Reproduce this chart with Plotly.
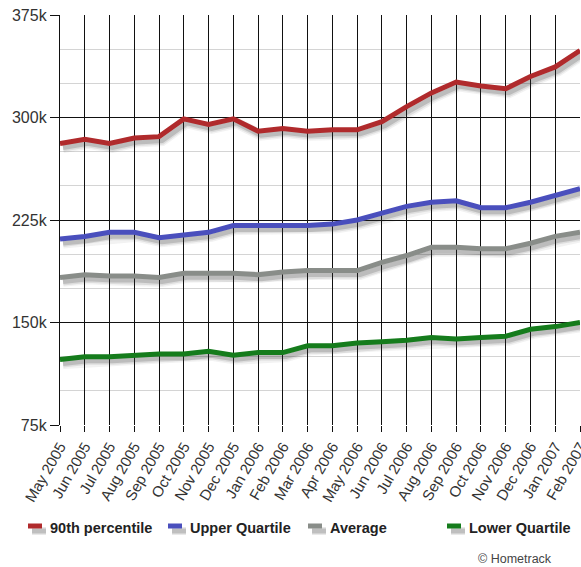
import plotly.graph_objects as go

months = ["May 2005", "Jun 2005", "Jul 2005", "Aug 2005", "Sep 2005", "Oct 2005",
          "Nov 2005", "Dec 2005", "Jan 2006", "Feb 2006", "Mar 2006", "Apr 2006",
          "May 2006", "Jun 2006", "Jul 2006", "Aug 2006", "Sep 2006", "Oct 2006",
          "Nov 2006", "Dec 2006", "Jan 2007", "Feb 2007"]

# House prices in thousands of pounds
p90 = [281, 284, 281, 285, 286, 299, 295, 299, 290, 292, 290, 291,
       291, 297, 308, 318, 326, 323, 321, 330, 337, 349]
upper_q = [211, 213, 216, 216, 212, 214, 216, 221, 221, 221, 221, 222,
           225, 230, 235, 238, 239, 234, 234, 238, 243, 248]
average = [183, 185, 184, 184, 183, 186, 186, 186, 185, 187, 188, 188,
           188, 194, 199, 205, 205, 204, 204, 208, 213, 216]
lower_q = [123, 125, 125, 126, 127, 127, 129, 126, 128, 128, 133, 133,
           135, 136, 137, 139, 138, 139, 140, 145, 147, 150]

series = [
    ("90th percentile", p90, "#b02a2c"),
    ("Upper Quartile", upper_q, "#4a4fbd"),
    ("Average", average, "#898d89"),
    ("Lower Quartile", lower_q, "#157c1c"),
]

W, H = 581, 567
M_L, M_R, M_T, M_B = 60, 1, 15, 142
Y_MIN, Y_MAX = 75, 375
PLOT_W, PLOT_H = W - M_L - M_R, H - M_T - M_B
px_per_cat = PLOT_W / (len(months) - 1)
px_per_k = PLOT_H / (Y_MAX - Y_MIN)

# drop shadow offset in pixels (right, down)
SHADOW_DX, SHADOW_DY = 3, 4
sx = SHADOW_DX / px_per_cat
sy = SHADOW_DY / px_per_k

fig = go.Figure()

# soft shadows on the base (hidden, shifted) axes
for name, vals, col in series:
    for w, op in [(11, 0.06), (8, 0.10), (5, 0.18)]:
        fig.add_trace(go.Scatter(
            x=months, y=vals, mode="lines", xaxis="x", yaxis="y",
            line=dict(color=f"rgba(40,40,40,{op})", width=w),
            showlegend=False, hoverinfo="skip"))

# main lines on the visible overlay axes
for name, vals, col in series:
    fig.add_trace(go.Scatter(
        x=months, y=vals, mode="lines", name=name, xaxis="x2", yaxis="y2",
        line=dict(color=col, width=5), showlegend=False))

font_main = "Liberation Sans, Arial, sans-serif"


def px_x(px):
    return (px - M_L) / PLOT_W


def px_y(py):
    return (H - M_B - py) / PLOT_H


# key below the chart: short shadowed strokes followed by bold labels
key_x = [28, 168, 308, 447]
key_y = 526
for (name, vals, col), kx in zip(series, key_x):
    for w, op, dx, dy in [(8, 0.10, 4, 5), (5, 0.22, 4, 5)]:
        fig.add_shape(type="line", xref="paper", yref="paper",
                      x0=px_x(kx + dx), x1=px_x(kx + 14 + dx),
                      y0=px_y(key_y + dy), y1=px_y(key_y + dy),
                      line=dict(color=f"rgba(40,40,40,{op})", width=w))
    fig.add_shape(type="line", xref="paper", yref="paper",
                  x0=px_x(kx), x1=px_x(kx + 14), y0=px_y(key_y), y1=px_y(key_y),
                  line=dict(color=col, width=5))
    fig.add_annotation(text=f"<b>{name}</b>", xref="paper", yref="paper",
                       x=px_x(kx + 20), y=px_y(key_y + 2), xanchor="left",
                       yanchor="middle", showarrow=False,
                       font=dict(size=14.5, color="#222222", family=font_main))

fig.update_layout(
    width=W, height=H,
    margin=dict(l=M_L, r=M_R, t=M_T, b=M_B, autoexpand=False),
    paper_bgcolor="white", plot_bgcolor="white",
    font=dict(family=font_main, color="#333333"),
    showlegend=False,
    xaxis=dict(type="category", range=[-sx, len(months) - 1 - sx], visible=False,
               showgrid=False, automargin=False),
    yaxis=dict(range=[Y_MIN + sy, Y_MAX + sy], visible=False, showgrid=False,
               automargin=False),
    xaxis2=dict(type="category", overlaying="x", range=[0, len(months) - 1],
                showgrid=True, gridcolor="#111111", gridwidth=1.3,
                ticks="outside", ticklen=6, tickcolor="#111111",
                tickangle=-60, tickfont=dict(size=15, color="#333333"),
                showline=False, automargin=False),
    yaxis2=dict(overlaying="y", range=[Y_MIN, Y_MAX], tick0=75, dtick=75,
                ticksuffix="k", showgrid=True, gridcolor="#111111", gridwidth=1.3,
                minor=dict(dtick=25, tick0=75, showgrid=True, gridcolor="#d4d4d4",
                           gridwidth=1),
                ticks="outside", ticklen=9, tickcolor="#111111",
                tickfont=dict(size=16, color="#333333"),
                showline=True, linecolor="#111111", linewidth=1.3, automargin=False),
)

fig.add_annotation(text="© Hometrack", xref="paper", yref="paper",
                   x=px_x(476), y=px_y(559), xanchor="left", yanchor="middle",
                   showarrow=False, font=dict(size=12.5, color="#444444"))

fig.write_html("out.html")
